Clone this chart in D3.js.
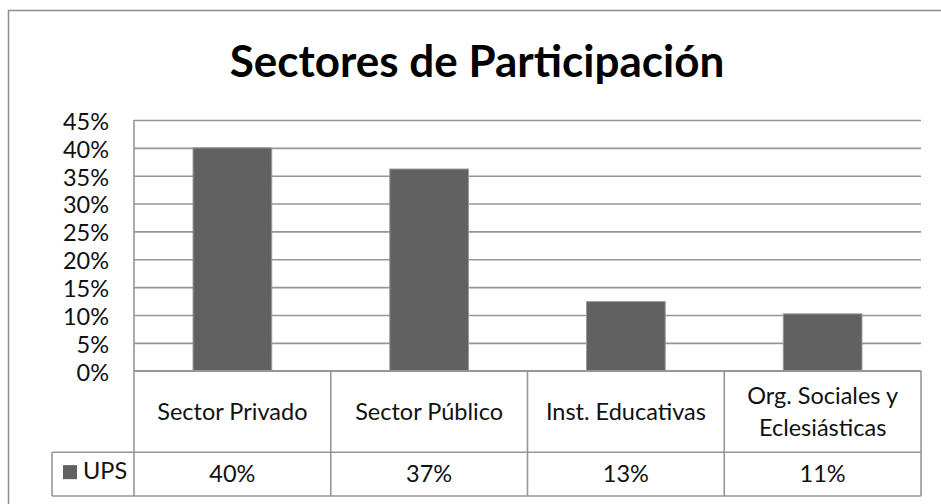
<!DOCTYPE html>
<html>
<head>
<meta charset="utf-8">
<script src="https://d3js.org/d3.v7.min.js"></script>
<style>
  html, body { margin: 0; padding: 0; background: #fff; overflow: hidden; }
  text { font-family: Lato, "Open Sans", sans-serif; fill: #111; }
</style>
</head>
<body>
<svg id="chart" width="941" height="504"></svg>
<script>
// data
var categories = [["Sector Privado"], ["Sector Público"], ["Inst. Educativas"], ["Org. Sociales y", "Eclesiásticas"]]
var seriesName = "UPS"
var upsValues = [0.40, 0.362, 0.124, 0.102]
var tableLabels = ["40%", "37%", "13%", "11%"]
var yTicks = [0, 0.05, 0.10, 0.15, 0.20, 0.25, 0.30, 0.35, 0.40, 0.45]

var svg = d3.select("#chart")
var plotLeft = 134, plotRight = 921, plotTop = 120, zero = 370.7
var headerBottom = 452.3, rowBottom = 496, legendLeft = 52
var gridColor = "#969696"
var labelSize = "23.5px"

// outer frame (right/bottom run past the window)
svg.append("rect").attr("x", 8.5).attr("y", 10.5).attr("width", 960).attr("height", 520)
   .attr("fill", "#fff").attr("stroke", "#8c8c8c").attr("stroke-width", 1.5)

svg.append("text").attr("x", 477).attr("y", 77).attr("text-anchor", "middle")
   .style("font-size", "44px").style("font-weight", "bold").style("fill", "#000")
   .text("Sectores de Participación")

var y = d3.scaleLinear().domain([0, 0.45]).range([zero, plotTop])
var cells = d3.scaleBand().domain(d3.range(categories.length)).range([plotLeft, plotRight])
var x = d3.scaleBand().domain(d3.range(categories.length)).range([plotLeft, plotRight])
          .paddingInner(0.6).paddingOuter(0.3)

// gridlines + tick labels via axis
var yAxis = svg.append("g").attr("transform", "translate(" + plotLeft + ",0)")
  .call(d3.axisLeft(y).tickValues(yTicks).tickFormat(d3.format(".0%"))
        .tickSize(-(plotRight - plotLeft)).tickPadding(25))
yAxis.select(".domain").remove()
yAxis.selectAll(".tick line").attr("stroke", gridColor).attr("stroke-width", 1.6)
yAxis.selectAll(".tick text").style("font-size", labelSize).attr("dy", "0.4em")
     .style("font-family", "Lato, sans-serif").attr("fill", "#111")

// bars
svg.append("g").selectAll("rect").data(upsValues).join("rect")
  .attr("x", function(d, i) { return x(i) })
  .attr("width", x.bandwidth())
  .attr("y", function(d) { return y(d) })
  .attr("height", function(d) { return zero - y(d) })
  .attr("fill", "#616161").attr("stroke", "#9a9a9a").attr("stroke-width", 1)

// data table
var tbl = svg.append("g").attr("fill", "none").attr("stroke", gridColor).attr("stroke-width", 1.6)
tbl.append("line").attr("x1", plotLeft).attr("x2", plotLeft).attr("y1", plotTop).attr("y2", rowBottom)
tbl.append("line").attr("x1", plotLeft).attr("x2", plotRight).attr("y1", zero).attr("y2", zero)
tbl.append("line").attr("x1", legendLeft).attr("x2", plotRight).attr("y1", headerBottom).attr("y2", headerBottom)
tbl.append("line").attr("x1", legendLeft).attr("x2", plotRight).attr("y1", rowBottom).attr("y2", rowBottom)
tbl.append("line").attr("x1", legendLeft).attr("x2", legendLeft).attr("y1", headerBottom).attr("y2", rowBottom)
tbl.selectAll(".div").data(d3.range(categories.length)).join("line").attr("class", "div")
  .attr("x1", function(i) { return cells(i) + cells.bandwidth() }).attr("x2", function(i) { return cells(i) + cells.bandwidth() })
  .attr("y1", zero).attr("y2", rowBottom)

var headerMid = (zero + headerBottom) / 2
svg.append("g").selectAll("text").data(categories).join("text")
  .attr("text-anchor", "middle").style("font-size", labelSize)
  .attr("x", function(d, i) { return cells(i) + cells.bandwidth() / 2 })
  .attr("y", function(d) { return headerMid - (d.length - 1) * 16 })
  .selectAll("tspan").data(function(d) { return d }).join("tspan")
  .attr("x", function() { return this.parentNode.getAttribute("x") })
  .attr("dy", function(d, j) { return j === 0 ? "0.35em" : 32 })
  .text(function(d) { return d })

var rowMid = (headerBottom + rowBottom) / 2
svg.append("g").selectAll("text").data(tableLabels).join("text")
  .attr("text-anchor", "middle").style("font-size", labelSize)
  .attr("x", function(d, i) { return cells(i) + cells.bandwidth() / 2 })
  .attr("y", rowMid).attr("dy", "0.35em")
  .text(function(d) { return d })

// legend key in the table
svg.append("rect").attr("x", 63).attr("y", rowMid - 9).attr("width", 14).attr("height", 14).attr("fill", "#616161")
svg.append("text").attr("x", 83).attr("y", rowMid - 3).attr("dy", "0.35em").style("font-size", labelSize).text(seriesName)
</script>
</body>
</html>
